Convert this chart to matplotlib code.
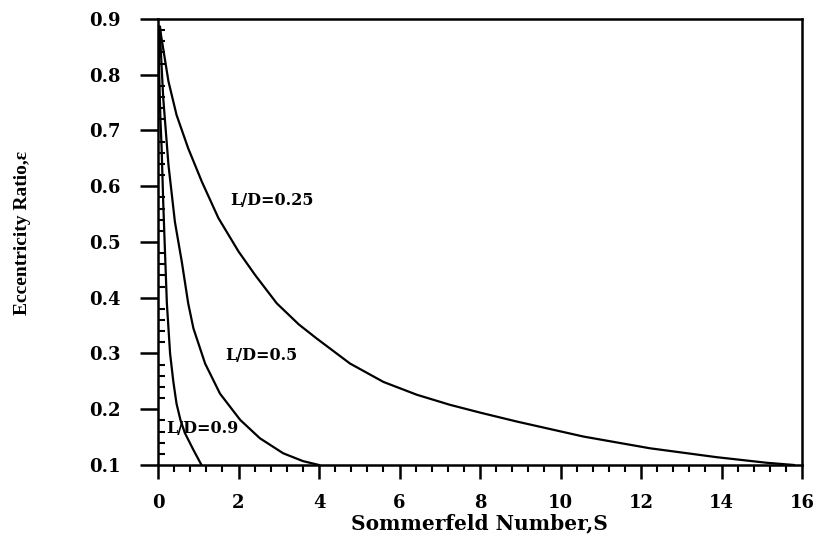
import matplotlib
matplotlib.use("Agg")
import matplotlib.pyplot as plt
from matplotlib.ticker import MultipleLocator

# Data
s_025 = [0.05, 0.075, 0.26, 0.46, 0.75, 1.09, 1.50, 2.0, 2.41, 2.95, 3.5, 3.94, 4.77, 5.60, 6.43, 7.25, 8.0, 8.91, 10.57, 12.22, 13.88, 15.12, 15.8]
e_025 = [0.886, 0.871, 0.788, 0.728, 0.668, 0.608, 0.543, 0.483, 0.441, 0.390, 0.352, 0.327, 0.282, 0.249, 0.226, 0.208, 0.194, 0.178, 0.151, 0.130, 0.114, 0.104, 0.100]

s_05 = [0.03, 0.05, 0.13, 0.26, 0.42, 0.59, 0.75, 0.88, 1.17, 1.54, 2.04, 2.53, 3.11, 3.60, 4.0]
e_05 = [0.886, 0.871, 0.758, 0.638, 0.536, 0.465, 0.39, 0.345, 0.282, 0.228, 0.181, 0.148, 0.121, 0.107, 0.100]

s_09 = [0.01, 0.03, 0.06, 0.09, 0.13, 0.17, 0.22, 0.30, 0.38, 0.46, 0.56, 0.67, 0.88, 1.08]
e_09 = [0.886, 0.80, 0.72, 0.668, 0.57, 0.489, 0.39, 0.30, 0.25, 0.21, 0.18, 0.157, 0.127, 0.100]

labels = ["L/D=0.25", "L/D=0.5", "L/D=0.9"]
label_pos = [(2.83, 0.575), (2.58, 0.297), (1.09, 0.166)]

xticks = [0, 2, 4, 6, 8, 10, 12, 14, 16]
yticks = [0.1, 0.2, 0.3, 0.4, 0.5, 0.6, 0.7, 0.8, 0.9]

plt.rcParams['font.family'] = ['DejaVu Serif']
plt.rcParams['font.weight'] = 'bold'

fig = plt.figure(figsize=(8.17, 5.38), dpi=100)
ax = fig.add_axes([0.1934, 0.1357, 0.7883, 0.829])

for s, e in [(s_025, e_025), (s_05, e_05), (s_09, e_09)]:
    ax.plot(s, e, color='black', lw=1.6, solid_joinstyle='round')

for txt, (x, y) in zip(labels, label_pos):
    ax.text(x, y, txt, ha='center', va='center', fontsize=11.5, fontweight='bold')

ax.set_xlim(0, 16)
ax.set_ylim(0.1, 0.9)
ax.set_xticks(xticks)
ax.set_xticklabels([str(v) for v in xticks])
ax.set_yticks(yticks)
ax.set_yticklabels([f"{v:.1f}" for v in yticks])
ax.xaxis.set_minor_locator(MultipleLocator(0.4))
ax.yaxis.set_minor_locator(MultipleLocator(0.02))

for sp in ax.spines.values():
    sp.set_linewidth(1.8)

ax.tick_params(axis='x', which='major', direction='out', length=10, width=1.8, pad=11, labelsize=13)
ax.tick_params(axis='x', which='minor', direction='out', length=5, width=1.5)
ax.tick_params(axis='y', which='major', direction='out', length=13, width=1.8, pad=14, labelsize=13)
ax.tick_params(axis='y', which='minor', direction='in', length=5, width=1.5)
for lab in ax.get_xticklabels() + ax.get_yticklabels():
    lab.set_fontweight('bold')

fig.text(0.587, 0.027, "Sommerfeld Number,S", ha='center', va='center',
         fontsize=14.5, fontweight='bold')
fig.text(0.027, 0.567, "Eccentricity Ratio,ε", rotation=90, ha='center', va='center',
         fontsize=14, fontweight='bold', family=['Liberation Serif', 'DejaVu Serif'])

fig.savefig("out.png", dpi=100)
